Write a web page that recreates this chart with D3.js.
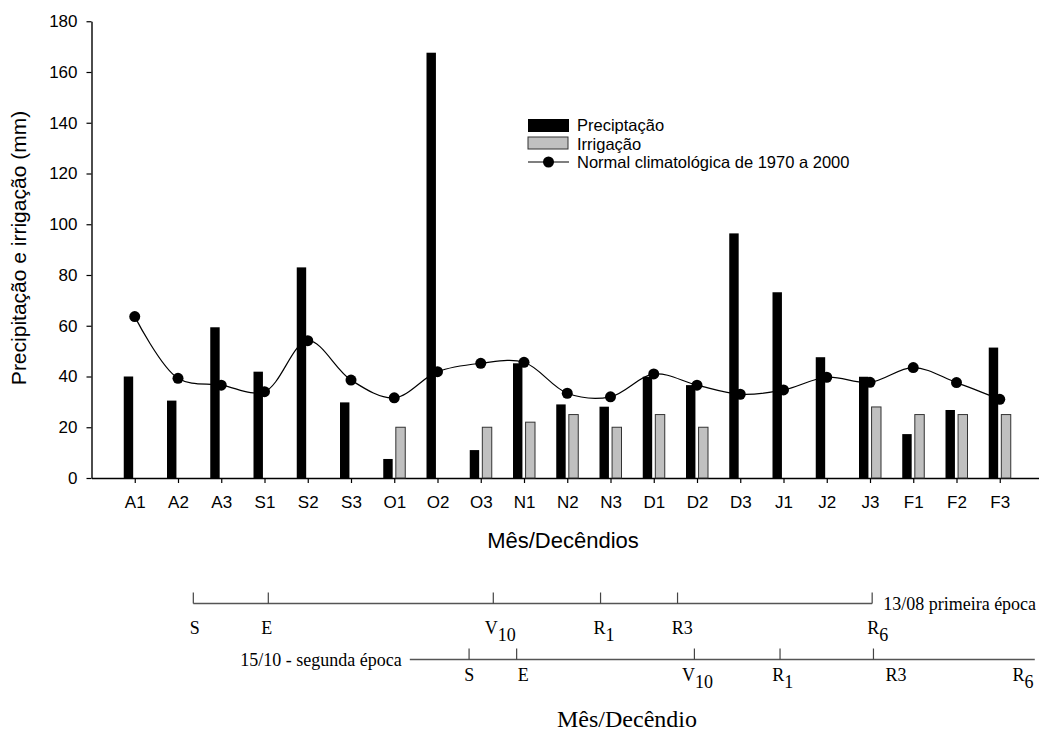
<!DOCTYPE html>
<html>
<head>
<meta charset="utf-8">
<script src="https://cdn.jsdelivr.net/npm/d3@7"></script>
<style>
  body { margin: 0; background: #fff; }
  svg { display: block; }
</style>
</head>
<body>
<div id="chart"></div>
<script>
// Data
const decendios = ["A1", "A2", "A3", "S1", "S2", "S3", "O1", "O2", "O3", "N1", "N2",
  "N3", "D1", "D2", "D3", "J1", "J2", "J3", "F1", "F2", "F3"];
const precipitacao = [40, 30.5, 59.4, 41.9, 83, 29.8, 7.5, 167.6, 11, 45.2, 29,
  28.1, 39.9, 36.6, 96.4, 73.2, 47.6, 39.9, 17.3, 26.8, 51.4];
const irrigacao = [null, null, null, null, null, null, 20, null, 20, 22, 25,
  20, 25, 20, null, null, null, 28, 25, 25, 25];
const normal = [63.6, 39.3, 36.6, 34, 54.1, 38.6, 31.6, 41.9, 45.2, 45.6, 33.4,
  32, 41, 36.6, 33, 34.7, 39.7, 37.7, 43.5, 37.6, 31];
const yTicks = [0, 20, 40, 60, 80, 100, 120, 140, 160, 180];

// Phenological stages, positions in decêndio units (A1 = 1)
const epoca1Nome = "13/08 primeira época";
const epoca1Linha = [2.354, 18.05];
const epoca1Ticks = [2.354, 4.088, 9.29, 11.77, 13.55, 18.05];
const epoca1Estadios = [["S", ""], ["E", ""], ["V", "10"], ["R", "1"], ["R3", ""], ["R", "6"]];
const epoca1Rotulos = [2.39, 4.05, 9.45, 11.85, 13.66, 18.18];

const epoca2Nome = "15/10 - segunda época";
const epoca2Linha = [7.36, 21.81];
const epoca2Ticks = [8.73, 9.83, 13.94, 15.92, 18.08];
const epoca2Estadios = [["S", ""], ["E", ""], ["V", "10"], ["R", "1"], ["R3", ""], ["R", "6"]];
const epoca2Rotulos = [8.735, 9.98, 14.01, 15.98, 18.6, 21.54];

const W = 1039, H = 736;
const SANS = "'Liberation Sans', Arial, sans-serif";
const SERIF = "'Liberation Serif', 'Times New Roman', serif";

const svg = d3.select("#chart").append("svg")
  .attr("width", W)
  .attr("height", H);

const x = d3.scaleLinear().domain([0, 22]).range([91.5, 1043]);
const y = d3.scaleLinear().domain([0, 180]).range([478, 21.25]);
const sub = d3.scaleBand()
  .domain(["Precipitação", "Irrigação"])
  .range([-11, 11])
  .paddingInner(0.25);

// Axes
const xAxis = svg.append("g")
  .attr("transform", "translate(0," + y(0) + ")")
  .call(d3.axisBottom(x)
    .tickValues(d3.range(1, decendios.length + 1))
    .tickFormat(i => decendios[i - 1])
    .tickSize(5)
    .tickSizeOuter(0));

const yAxis = svg.append("g")
  .attr("transform", "translate(" + x(0) + ",0)")
  .call(d3.axisLeft(y)
    .tickValues(yTicks)
    .tickSize(5)
    .tickSizeOuter(0));

[xAxis, yAxis].forEach(g => {
  g.select(".domain").attr("stroke", "#000").attr("stroke-width", 1.4);
  g.selectAll(".tick line").attr("stroke", "#000").attr("stroke-width", 1.2);
  g.selectAll(".tick text")
    .attr("fill", "#000")
    .attr("font-family", SANS)
    .attr("font-size", "17px");
});
xAxis.selectAll(".tick text").attr("dy", "0").attr("y", 30);
yAxis.selectAll(".tick text").attr("x", -14);

// Bars
svg.append("g")
  .selectAll("rect")
  .data(precipitacao)
  .enter()
  .append("rect")
  .attr("x", (d, i) => x(i + 1) + sub("Precipitação"))
  .attr("y", d => y(d))
  .attr("width", sub.bandwidth())
  .attr("height", d => y(0) - y(d))
  .attr("fill", "#000");

svg.append("g")
  .selectAll("rect")
  .data(irrigacao.map((v, i) => ({ v: v, i: i })).filter(d => d.v !== null))
  .enter()
  .append("rect")
  .attr("x", d => x(d.i + 1) + sub("Irrigação"))
  .attr("y", d => y(d.v))
  .attr("width", sub.bandwidth())
  .attr("height", d => y(0) - y(d.v))
  .attr("fill", "#c0c0c0")
  .attr("stroke", "#333")
  .attr("stroke-width", 1);

// Normal climatológica line
const line = d3.line()
  .x((d, i) => x(i + 1))
  .y(d => y(d))
  .curve(d3.curveCatmullRom.alpha(0.5));

svg.append("path")
  .datum(normal)
  .attr("d", line)
  .attr("fill", "none")
  .attr("stroke", "#000")
  .attr("stroke-width", 1.2);

svg.append("g")
  .selectAll("circle")
  .data(normal)
  .enter()
  .append("circle")
  .attr("cx", (d, i) => x(i + 1))
  .attr("cy", d => y(d))
  .attr("r", 5.5)
  .attr("fill", "#000");

// Axis titles
svg.append("text")
  .attr("transform", "translate(26,248) rotate(-90)")
  .attr("text-anchor", "middle")
  .attr("font-family", SANS)
  .attr("font-size", "21px")
  .text("Precipitação e irrigação (mm)");

svg.append("text")
  .attr("x", 563)
  .attr("y", 548)
  .attr("text-anchor", "middle")
  .attr("font-family", SANS)
  .attr("font-size", "22px")
  .text("Mês/Decêndios");

// Legend
const legend = svg.append("g").attr("transform", "translate(528,119)");
legend.append("rect")
  .attr("width", 41).attr("height", 13)
  .attr("fill", "#000");
legend.append("rect")
  .attr("y", 18).attr("width", 40).attr("height", 12)
  .attr("fill", "#c0c0c0").attr("stroke", "#333");
legend.append("line")
  .attr("x1", 0).attr("x2", 41)
  .attr("y1", 43).attr("y2", 43)
  .attr("stroke", "#000").attr("stroke-width", 1.2);
legend.append("circle")
  .attr("cx", 20.5).attr("cy", 43).attr("r", 5.5)
  .attr("fill", "#000");
["Preciptação", "Irrigação", "Normal climatológica de 1970 a 2000"].forEach((t, i) => {
  legend.append("text")
    .attr("x", 49)
    .attr("y", 12 + i * 18.5)
    .attr("font-family", SANS)
    .attr("font-size", "16.5px")
    .text(t);
});

// Phenological timelines
function drawEpoca(linha, ticks, estadios, rotulos, lineY, labelY, nome, nomeX, nomeAnchor) {
  const g = svg.append("g");
  g.append("line")
    .attr("x1", x(linha[0])).attr("x2", x(linha[1]))
    .attr("y1", lineY).attr("y2", lineY)
    .attr("stroke", "#555").attr("stroke-width", 1.5);
  g.selectAll(".tk")
    .data(ticks)
    .enter()
    .append("line")
    .attr("x1", d => x(d)).attr("x2", d => x(d))
    .attr("y1", lineY - 11).attr("y2", lineY)
    .attr("stroke", "#444").attr("stroke-width", 1.2);
  const labels = g.selectAll(".lb")
    .data(estadios)
    .enter()
    .append("text")
    .attr("x", (d, i) => x(rotulos[i]))
    .attr("y", labelY)
    .attr("text-anchor", "middle")
    .attr("font-family", SERIF)
    .attr("font-size", "18px");
  labels.append("tspan").text(d => d[0]);
  labels.filter(d => d[1] !== "")
    .append("tspan")
    .attr("dy", 7)
    .text(d => d[1]);
  g.append("text")
    .attr("x", nomeX)
    .attr("y", lineY + 6)
    .attr("text-anchor", nomeAnchor)
    .attr("font-family", SERIF)
    .attr("font-size", "18px")
    .text(nome);
}

drawEpoca(epoca1Linha, epoca1Ticks, epoca1Estadios, epoca1Rotulos, 603.5, 634,
  epoca1Nome, x(epoca1Linha[1]) + 11, "start");
drawEpoca(epoca2Linha, epoca2Ticks, epoca2Estadios, epoca2Rotulos, 659.5, 681,
  epoca2Nome, x(epoca2Linha[0]) - 8, "end");

svg.append("text")
  .attr("x", 627)
  .attr("y", 727)
  .attr("text-anchor", "middle")
  .attr("font-family", SERIF)
  .attr("font-size", "24px")
  .text("Mês/Decêndio");
</script>
</body>
</html>
